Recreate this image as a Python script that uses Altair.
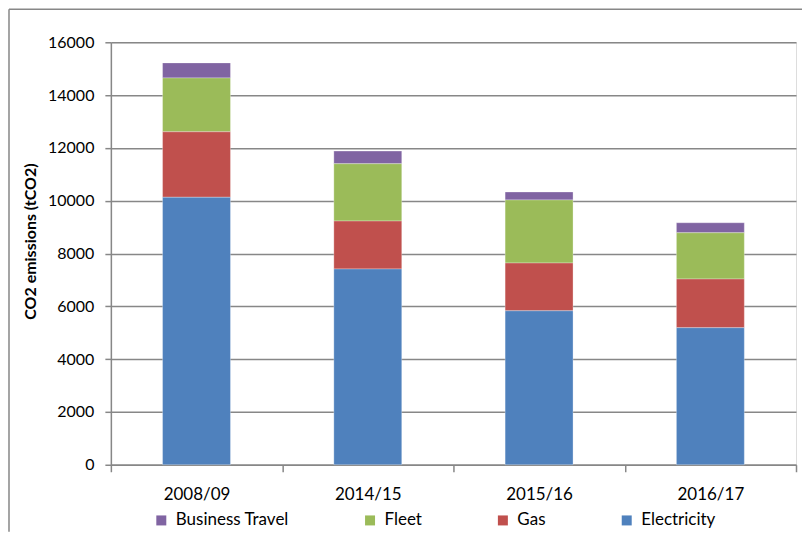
import altair as alt
import pandas as pd

years = ["2008/09", "2014/15", "2015/16", "2016/17"]
electricity = [10130, 7415, 5830, 5190]
gas = [2480, 1815, 1810, 1845]
fleet = [2040, 2170, 2390, 1750]
business_travel = [570, 480, 300, 380]

series_names = ["Business Travel", "Fleet", "Gas", "Electricity"]
series_values = [business_travel, fleet, gas, electricity]
series_colors = ["#8064A2", "#9BBB59", "#C0504D", "#4F81BD"]
stack_rank = {"Electricity": 0, "Gas": 1, "Fleet": 2, "Business Travel": 3}

rows = []
for name, vals in zip(series_names, series_values):
    for yr, v in zip(years, vals):
        rows.append({"year": yr, "source": name, "value": v, "rank": stack_rank[name]})
df = pd.DataFrame(rows)

FONT = "Lato"
GRID = "#878787"

bars = alt.Chart(df).mark_bar(size=68, stroke="#ffffff", strokeWidth=0.5, strokeOpacity=0.6).encode(
    x=alt.X("year:N", sort=years,
            scale=alt.Scale(paddingInner=0, paddingOuter=0),
            axis=alt.Axis(title=None, labelAngle=0, tickBand="extent", tickSize=7,
                          labelPadding=15, domainColor=GRID, tickColor=GRID,
                          domainWidth=1.5, tickWidth=1.5, grid=False,
                          labelFont=FONT, labelFontSize=17, labelColor="#000000")),
    y=alt.Y("value:Q", stack="zero",
            scale=alt.Scale(domain=[0, 16000], nice=False),
            axis=alt.Axis(title="CO2 emissions (tCO2)", values=list(range(0, 16001, 2000)),
                          format="d",
                          tickSize=6, labelPadding=11, domainColor=GRID, tickColor=GRID,
                          domainWidth=1.5, tickWidth=1.5, gridColor=GRID, gridWidth=1.5,
                          labelFont=FONT, labelFontSize=16, labelColor="#000000",
                          titleFont=FONT, titleFontSize=16, titleFontWeight="bold",
                          titleColor="#000000", titlePadding=9, titleY=199)),
    color=alt.Color("source:N", sort=series_names,
                    scale=alt.Scale(domain=series_names, range=series_colors),
                    legend=alt.Legend(title=None, orient="none", legendX=42, legendY=470,
                                      direction="horizontal", columns=4, columnPadding=72,
                                      symbolType="square", symbolSize=100, symbolStrokeWidth=0,
                                      labelFont=FONT, labelFontSize=17, labelColor="#000000",
                                      labelOffset=6)),
    order=alt.Order("rank:Q", sort="ascending"),
)

frame_df = pd.DataFrame({"k": [0]})
frame_left = alt.Chart(frame_df).mark_rule(color=GRID, strokeWidth=1.5).encode(
    x=alt.value(-102), y=alt.value(-33), y2=alt.value(490))
frame_top = alt.Chart(frame_df).mark_rule(color=GRID, strokeWidth=1.5).encode(
    x=alt.value(-102), x2=alt.value(692), y=alt.value(-33))

chart = alt.layer(frame_left, frame_top, bars).properties(
    width=686, height=423, padding=0
).configure_view(stroke=None).configure(background="#ffffff")

chart.save("out.html", embed_options={"renderer": "svg", "actions": False})
